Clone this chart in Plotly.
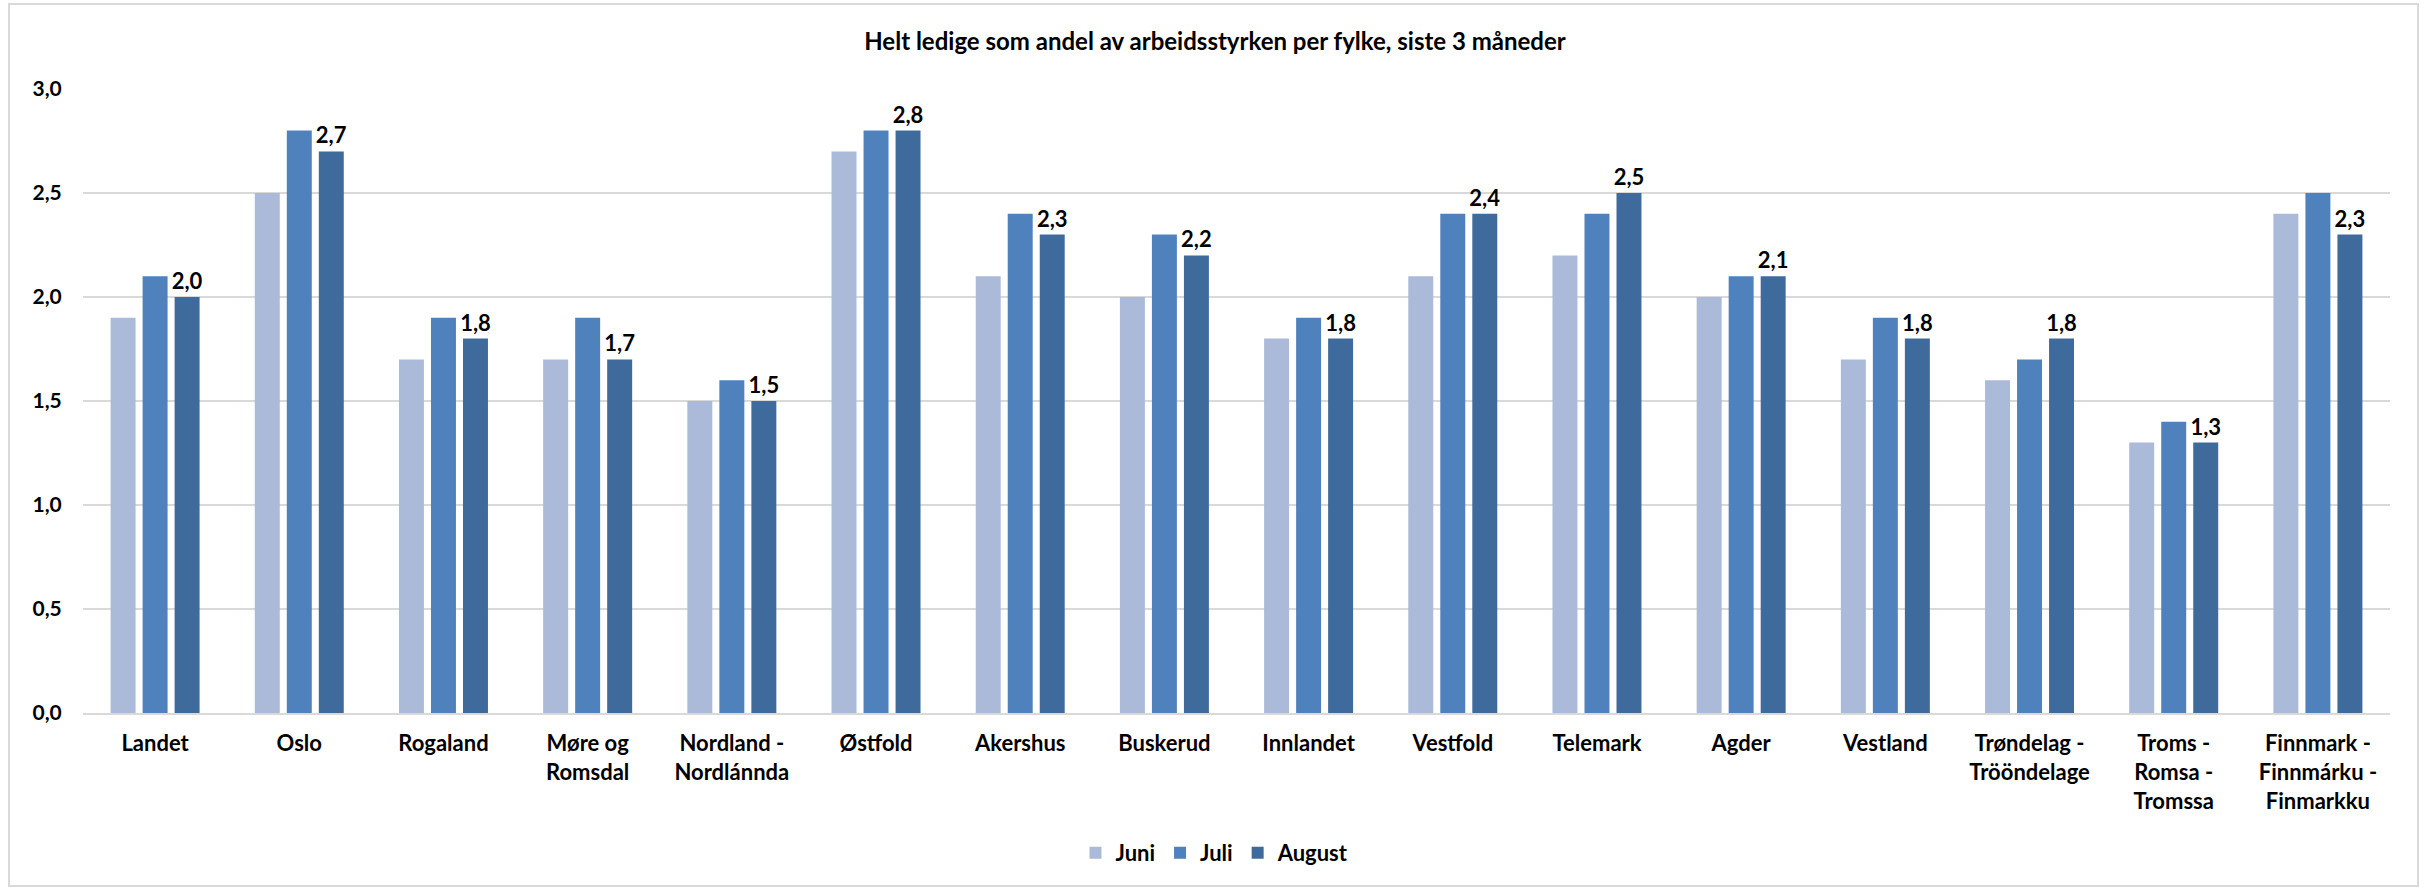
import plotly.graph_objects as go

categories = ["Landet", "Oslo", "Rogaland", "Møre og<br>Romsdal", "Nordland -<br>Nordlánnda",
              "Østfold", "Akershus", "Buskerud", "Innlandet", "Vestfold", "Telemark", "Agder",
              "Vestland", "Trøndelag -<br>Trööndelage", "Troms -<br>Romsa -<br>Tromssa",
              "Finnmark -<br>Finnmárku -<br>Finmarkku"]
juni = [1.9, 2.5, 1.7, 1.7, 1.5, 2.7, 2.1, 2.0, 1.8, 2.1, 2.2, 2.0, 1.7, 1.6, 1.3, 2.4]
juli = [2.1, 2.8, 1.9, 1.9, 1.6, 2.8, 2.4, 2.3, 1.9, 2.4, 2.4, 2.1, 1.9, 1.7, 1.4, 2.5]
august = [2.0, 2.7, 1.8, 1.7, 1.5, 2.8, 2.3, 2.2, 1.8, 2.4, 2.5, 2.1, 1.8, 1.8, 1.3, 2.3]
series_names = ["Juni", "Juli", "August"]
colors = ["#ABBAD8", "#4F81BD", "#3F6A9C"]
title = "Helt ledige som andel av arbeidsstyrken per fylke, siste 3 måneder"
y_ticks = [0, 0.5, 1.0, 1.5, 2.0, 2.5, 3.0]

FONT = "Lato, Open Sans, sans-serif"
FS = 22

fig = go.Figure()
for name, vals, col in zip(series_names, [juni, juli, august], colors):
    kw = {}
    if name == "August":
        kw = dict(texttemplate="<b>%{y:.1f}</b>", textposition="outside", constraintext="none",
                  textfont=dict(family=FONT, size=FS, color="#000000"), cliponaxis=False)
    fig.add_trace(go.Bar(x=categories, y=vals, name="<b>" + name + "</b>",
                         marker=dict(color=col, line=dict(width=0)), **kw))

W, H = 2430, 889
ml, mr, mt, mb = 83, 40, 89, 176
fig.update_layout(
    width=W, height=H,
    margin=dict(l=ml, r=mr, t=mt, b=mb),
    paper_bgcolor="white", plot_bgcolor="white",
    separators=", ",
    barmode="group", bargap=0.334, bargroupgap=0.22,
    font=dict(family=FONT, size=FS, color="#000000"),
    title=dict(text="<b>" + title + "</b>", x=0.5, xref="container", xanchor="center",
               y=1 - 42 / H, yref="container", yanchor="middle",
               font=dict(family=FONT, size=24, color="#000000")),
    legend=dict(orientation="h", xref="container", x=0.5, xanchor="center",
                yref="container", y=1 - 853 / H, yanchor="middle",
                font=dict(family=FONT, size=FS, color="#000000"),
                itemwidth=30, traceorder="normal"),
    showlegend=True,
)
fig.update_yaxes(range=[0, 3.0], showgrid=True,
                 gridcolor="#D9D9D9", gridwidth=2, zeroline=False, showline=False,
                 ticks="outside", ticklen=16, tickcolor="rgba(0,0,0,0)",
                 tickmode="array", tickvals=y_ticks,
                 ticktext=["<b>" + f"{v:.1f}".replace(".", ",") + "</b>" for v in y_ticks],
                 tickfont=dict(family=FONT, size=FS - 1, color="#000000"))
fig.update_xaxes(showline=True, linecolor="#D9D9D9", linewidth=2, showgrid=False,
                 ticks="outside", ticklen=10, tickcolor="rgba(0,0,0,0)",
                 tickmode="array", tickvals=categories,
                 ticktext=["<b>" + c.replace("<br>", "</b><br><b>") + "</b>" for c in categories],
                 tickfont=dict(family=FONT, size=FS, color="#000000"), tickangle=0)

# outer chart border
pw = W - ml - mr
ph = H - mt - mb
fig.add_shape(type="rect", xref="paper", yref="paper",
              x0=(9 - ml) / pw, x1=(2418 - ml) / pw,
              y0=-(H - 3 - mt - ph) / ph, y1=1 + (mt - 4) / ph,
              line=dict(color="#D9D9D9", width=2), fillcolor="rgba(0,0,0,0)", layer="below")

fig.write_html("out.html", config={"displayModeBar": False},
               post_script="document.body.style.margin='0';document.body.style.overflow='hidden';")
